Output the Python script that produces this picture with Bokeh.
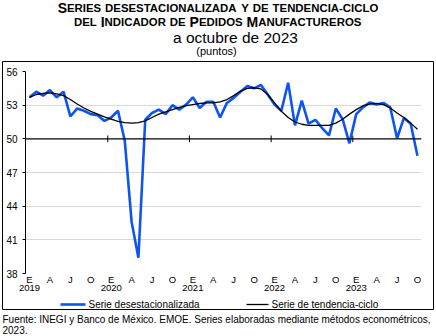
from bokeh.plotting import figure
from bokeh.models import FixedTicker, Span, LinearAxis, Range1d
from bokeh.core.properties import value
from bokeh.embed import file_html
from bokeh.resources import INLINE

# ---------------- data ----------------
desestacionalizada = [
    53.7, 54.2, 53.85, 54.35, 53.7, 54.2, 52.0, 52.7, 52.5, 52.2, 52.1, 51.6,
    51.9, 52.5, 49.8, 42.6, 39.4, 51.7, 52.3, 52.6, 52.2, 53.0, 52.6, 53.05,
    53.7, 52.75, 53.3, 53.3, 51.9, 53.2, 53.65, 54.2, 54.7, 54.5, 54.8, 53.95,
    53.05, 52.5, 55.0, 51.2, 53.4, 51.35, 51.7, 50.95, 50.3, 52.7, 51.75, 49.6,
    52.2, 52.8, 53.25, 53.05, 53.2, 52.8, 50.05, 51.85, 51.35, 48.5]
tendencia_ciclo = [
    53.7, 53.95, 54.05, 54.1, 54.0, 53.85, 53.5, 53.1, 52.75, 52.45, 52.2, 51.95,
    51.75, 51.55, 51.45, 51.4, 51.45, 51.6, 51.9, 52.2, 52.4, 52.6, 52.8, 52.95,
    53.05, 53.15, 53.2, 53.2, 53.3, 53.5, 53.85, 54.25, 54.5, 54.55, 54.45, 53.95,
    53.2, 52.45, 51.9, 51.5, 51.3, 51.2, 51.2, 51.2, 51.2, 51.4, 51.75, 52.2,
    52.6, 52.95, 53.1, 53.15, 53.05, 52.75, 52.3, 51.9, 51.4, 50.85]
month_labels = ["E", "A", "J", "O"]          # every 3 months
years = ["2019", "2020", "2021", "2022", "2023"]
y_ticks = [38, 41, 44, 47, 50, 53, 56]

title1 = "Series desestacionalizada y de tendencia-ciclo"
title2 = "del Indicador de Pedidos Manufactureros"
title3 = "a octubre de 2023"
title4 = "(puntos)"
legend_labels = ["Serie desestacionalizada", "Serie de tendencia-ciclo"]
footer1 = "Fuente: INEGI y Banco de México. EMOE. Series elaboradas mediante métodos econométricos,"
footer2 = "2023."

BLUE = "#0D55F2"

# ---------------- layout ----------------
W, H = 436, 336
FL, FR, FT, FB = 25, 421, 71, 273
n = len(desestacionalizada)
X0, X1 = -0.59, n - 1 + 0.59
Y0, Y1 = y_ticks[0], y_ticks[-1]
FONT = "Liberation Sans"


def px2x(px):
    return X0 + (px - FL) / (FR - FL) * (X1 - X0)


def py2y(py):
    return Y0 + (FB - py) / (FB - FT) * (Y1 - Y0)


p = figure(width=W, height=H, output_backend="svg", toolbar_location=None,
           x_range=Range1d(X0, X1), y_range=Range1d(Y0, Y1),
           min_border_left=FL, min_border_right=W - FR,
           min_border_top=FT, min_border_bottom=H - FB)
p.outline_line_color = None
p.background_fill_color = "white"
p.border_fill_color = "white"

# grid
p.xgrid.visible = False
p.ygrid.ticker = FixedTicker(ticks=[t for t in y_ticks if t not in (38, 50)])
p.ygrid.grid_line_color = "#d9d9d9"
p.ygrid.grid_line_width = 1.2

# y axis
p.yaxis.ticker = FixedTicker(ticks=y_ticks)
p.yaxis.major_tick_out = 3
p.yaxis.major_tick_in = 0
p.yaxis.minor_tick_line_color = None
p.yaxis.axis_line_color = "black"
p.yaxis.major_tick_line_color = "black"
p.yaxis.major_label_text_font = FONT
p.yaxis.major_label_text_font_size = "10px"
p.yaxis.major_label_text_color = "black"
p.yaxis.major_label_standoff = 5

# x axis: month letters
xt = list(range(0, n, 3))
p.xaxis.ticker = FixedTicker(ticks=xt)
p.xaxis.major_label_overrides = {i: month_labels[k % 4] for k, i in enumerate(xt)}
p.xaxis.axis_line_color = None
p.xaxis.major_tick_line_color = None
p.xaxis.minor_tick_line_color = None
p.xaxis.major_tick_out = 0
p.xaxis.major_tick_in = 0
p.xaxis.major_label_standoff = 0
p.xaxis.major_label_text_font = FONT
p.xaxis.major_label_text_font_size = "9.5px"
p.xaxis.major_label_text_color = "black"

# x axis: years
yt = list(range(0, n, 12))
ax2 = LinearAxis(ticker=FixedTicker(ticks=yt),
                 major_label_overrides={i: years[k] for k, i in enumerate(yt)},
                 axis_line_color=None, major_tick_line_color=None,
                 minor_tick_line_color=None, major_tick_out=0, major_tick_in=0,
                 major_label_standoff=-3, major_label_text_font=FONT,
                 major_label_text_font_size="9.5px", major_label_text_color="black")
p.add_layout(ax2, "below")

# zero line + year separators
p.add_layout(Span(location=50, dimension="width", line_color="black", line_width=1.2))
bounds = [i - 0.5 for i in yt[1:]]
p.segment(x0=bounds, y0=[49.7] * len(bounds), x1=bounds, y1=[50.3] * len(bounds),
          line_color="black", line_width=1)

# series
x = list(range(n))
p.line(x, desestacionalizada, line_color=BLUE, line_width=2.6)
p.line(x, tendencia_ciclo, line_color="black", line_width=1.3)


def over(r):
    r.level = "overlay"
    return r


def txt(px, py, s, size, align="left", bold=False):
    over(p.text(x=[px2x(px)], y=[py2y(py)], text=[s], text_font=value(FONT),
                text_font_size=size, text_font_style="bold" if bold else "normal",
                text_align=align, text_baseline="middle", text_color="black"))


# legend (drawn manually below the axis)
over(p.line([px2x(60), px2x(85)], [py2y(304)] * 2, line_color=BLUE, line_width=2.6))
txt(88, 304, legend_labels[0], "10px")
over(p.line([px2x(246), px2x(268)], [py2y(304)] * 2, line_color="black", line_width=1.3))
txt(271, 304, legend_labels[1], "10px")

# outer box: thin filled areas along each edge
BL, BR, BT, BB = 2, 433, 61, 309
# top edge (harea)
over(p.harea(y=[py2y(BT - 0.5), py2y(BT + 0.5)],
             x1=[px2x(BL), px2x(BL)], x2=[px2x(BR), px2x(BR)], fill_color="black"))
# bottom edge (varea)
over(p.varea(x=[px2x(BL), px2x(BR)], y1=[py2y(BB - 0.5)] * 2, y2=[py2y(BB + 0.5)] * 2,
             fill_color="black"))
# left edge (varea)
over(p.varea(x=[px2x(BL - 0.5), px2x(BL + 0.5)], y1=[py2y(BT)] * 2, y2=[py2y(BB)] * 2,
             fill_color="black"))
# right edge (harea)
over(p.harea(y=[py2y(BT), py2y(BB)], x1=[px2x(BR - 0.5)] * 2, x2=[px2x(BR + 0.5)] * 2,
             fill_color="black"))

# title with small caps
AB = {'A': 722, 'B': 722, 'C': 722, 'D': 722, 'E': 667, 'F': 611, 'G': 778, 'H': 722,
      'I': 278, 'J': 556, 'K': 722, 'L': 611, 'M': 833, 'N': 722, 'O': 778, 'P': 667,
      'Q': 778, 'R': 722, 'S': 667, 'T': 611, 'U': 722, 'V': 667, 'W': 944, 'X': 667,
      'Y': 667, 'Z': 611, ' ': 278, '-': 333}


def smallcaps(text, cx, mid_py, big, small):
    segs = []
    for ch in text:
        size = big if (ch.isupper() or ch == " ") else small
        c = ch.upper()
        if segs and segs[-1][1] == size and ch != " " and segs[-1][0][-1] != " ":
            segs[-1][0] += c
        else:
            segs.append([c, size])
    widths = [sum(AB.get(c, 600) for c in s) * sz / 1000 for s, sz in segs]
    xpos = cx - sum(widths) / 2
    for (s, sz), w in zip(segs, widths):
        if s.strip():
            txt(xpos, mid_py + 0.3465 * (big - sz), s, f"{sz}px", bold=True)
        xpos += w


smallcaps(title1, 217.5, 7, 14, 11.4)
smallcaps(title2, 217.5, 21, 14, 11.4)
txt(235, 36.5, title3, "15.5px", align="center")
txt(216, 50, title4, "11px", align="center")

# footer
txt(2, 318.5, footer1, "10px")
txt(2, 329.5, footer2, "10px")

open("out.html", "w").write(file_html(p, INLINE))
